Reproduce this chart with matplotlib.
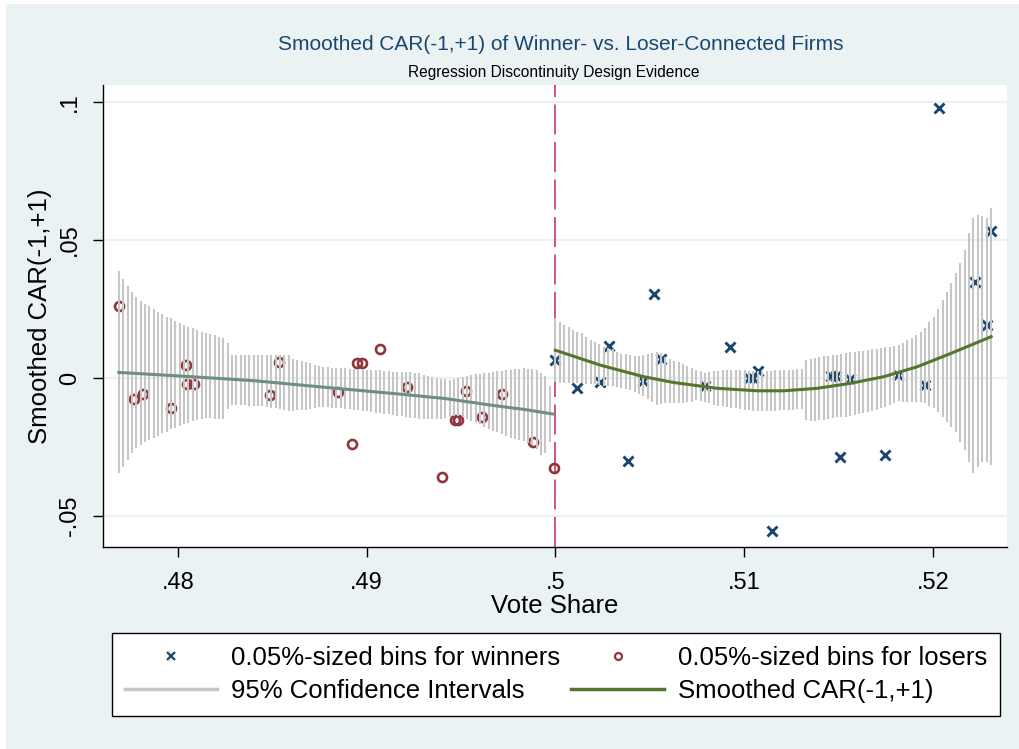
import numpy as np
import matplotlib
matplotlib.use("Agg")
import matplotlib.pyplot as plt
from matplotlib.lines import Line2D
from matplotlib.patches import Rectangle

plt.rcParams['font.family'] = ['Liberation Sans', 'DejaVu Sans']

NAVY = '#1a476f'
MAROON = '#90353b'
GREEN = '#55752f'
TEAL = '#6e8e84'
CI_GRAY = '#c6c6c6'
BG = '#eaf2f3'
VLINE = '#c8385a'

# ---- binned means (0.05%-sized bins) ----
lose_x = [0.47687, 0.47768, 0.47816, 0.47961, 0.48041, 0.48049, 0.48086, 0.48488,
          0.48537, 0.48848, 0.48924, 0.48950, 0.48975, 0.49072, 0.49212, 0.49399,
          0.49468, 0.49482, 0.49528, 0.49613, 0.49715, 0.49883, 0.49993]
lose_y = [0.0262, -0.0076, -0.0058, -0.0110, 0.0047, -0.0022, -0.0022, -0.0060,
          0.0057, -0.0052, -0.0237, 0.0056, 0.0056, 0.0104, -0.0033, -0.0359,
          -0.0152, -0.0152, -0.0045, -0.0141, -0.0059, -0.0233, -0.0325]

win_x = [0.50000, 0.50116, 0.50236, 0.50286, 0.50386, 0.50466, 0.50524, 0.50560,
         0.50793, 0.50925, 0.51028, 0.51049, 0.51075, 0.51146, 0.51459, 0.51487,
         0.51508, 0.51561, 0.51747, 0.51817, 0.51959, 0.52034, 0.52224, 0.52307,
         0.52285]
win_y = [0.0065, -0.0037, -0.0013, 0.0116, -0.0300, -0.0011, 0.0304, 0.0069,
         -0.0029, 0.0111, 0.0002, 0.0002, 0.0027, -0.0553, 0.0008, 0.0008,
         -0.0287, -0.0005, -0.0279, 0.0013, -0.0025, 0.0979, 0.0349, 0.0534,
         0.0194]

# ---- local polynomial grid (100 points per side) ----
grid_left = np.linspace(0.47687, 0.49970, 100)
grid_right = np.linspace(0.50000, 0.52308, 100)

# 95% CI bounds, in units of 1e-3
ci_hi_left = [38.8, 35.9, 33.4, 31.3, 29.5, 27.9, 26.8, 26.0, 24.9, 24.0,
              23.1, 22.2, 21.6, 20.8, 20.0, 19.4, 18.6, 18.0, 17.4, 16.8,
              16.2, 15.8, 15.6, 15.0, 14.4, 12.6, 8.3, 8.3, 8.3, 8.3,
              8.3, 8.3, 8.3, 8.3, 8.3, 8.3, 8.3, 8.3, 8.3, 8.3,
              7.1, 6.6, 6.1, 5.7, 5.3, 4.8, 4.5, 4.2, 4.0, 3.8,
              3.6, 3.6, 3.5, 3.4, 3.3, 3.2, 3.0, 3.0, 2.9, 2.9,
              2.8, 2.6, 2.4, 2.3, 2.2, 2.2, 2.2, 2.1, 2.0, 1.7,
              1.3, 0.9, 0.5, 0.1, -0.3, -0.5, -0.7, -0.5, -0.1, 0.4,
              0.8, 1.1, 1.4, 1.6, 1.8, 2.0, 2.2, 2.4, 2.7, 2.9,
              3.1, 3.3, 3.4, 3.5, 3.4, 3.3, 3.0, 2.0, 0.8, -2.7]
ci_lo_left = [-34.4, -32.1, -29.7, -27.3, -25.4, -24.3, -23.1, -22.5, -21.6, -20.9,
              -20.0, -19.4, -18.6, -18.0, -17.4, -16.8, -16.2, -15.6, -15.2, -14.9,
              -14.6, -14.6, -14.9, -15.0, -14.8, -11.3, -9.6, -9.7, -9.8, -9.9,
              -10.0, -10.0, -10.0, -10.2, -10.4, -10.7, -11.0, -11.2, -11.6, -11.8,
              -11.8, -11.7, -11.5, -11.4, -11.1, -10.8, -10.5, -10.4, -10.6, -10.7,
              -10.8, -10.9, -11.1, -11.3, -11.5, -11.7, -11.9, -12.1, -12.3, -12.5,
              -12.7, -12.9, -13.1, -13.4, -13.6, -13.9, -14.2, -14.4, -14.6, -14.8,
              -14.9, -14.9, -14.9, -14.8, -14.7, -14.4, -14.0, -13.7, -13.7, -14.2,
              -14.9, -15.5, -16.2, -16.8, -17.6, -18.3, -19.0, -19.7, -20.4, -21.1,
              -21.6, -22.1, -22.5, -22.8, -23.4, -24.3, -25.8, -27.7, -27.3, -23.3]
ci_hi_right = [21.6, 20.4, 19.2, 18.4, 17.6, 16.8, 16.2, 15.0, 13.8, 12.9,
               12.2, 11.4, 11.0, 10.4, 9.5, 8.9, 8.6, 8.3, 8.1, 8.1,
               8.3, 8.7, 9.2, 9.5, 9.0, 7.7, 6.9, 6.3, 5.8, 5.1,
               4.3, 3.5, 2.9, 2.5, 1.9, 2.3, 2.5, 2.7, 2.8, 2.9,
               2.9, 2.9, 2.9, 2.9, 2.7, 2.7, 2.7, 2.7, 2.7, 2.7,
               2.8, 2.9, 2.9, 3.0, 3.1, 3.2, 3.3, 6.5, 7.1, 7.4,
               7.7, 7.9, 8.1, 8.3, 8.5, 8.7, 9.0, 9.3, 9.5, 9.7,
               9.9, 10.1, 10.4, 10.7, 11.0, 11.2, 11.4, 11.6, 12.0, 12.8,
               13.8, 14.6, 15.6, 16.8, 18.0, 20.2, 22.0, 25.0, 28.3, 31.3,
               34.3, 37.9, 41.6, 46.4, 52.4, 57.9, 59.1, 58.7, 58.1, 61.7]
ci_lo_right = [-1.3, -1.6, -1.7, -1.7, -1.7, -1.7, -1.8, -2.0, -2.1, -2.3,
               -2.5, -2.7, -2.8, -3.0, -3.2, -3.5, -3.9, -4.3, -4.9, -5.6,
               -6.5, -7.4, -8.8, -9.8, -9.5, -9.2, -9.0, -8.9, -8.9, -8.9,
               -8.7, -8.6, -8.1, -8.3, -8.6, -9.1, -9.6, -10.0, -10.2, -10.5,
               -10.7, -11.0, -11.3, -11.5, -11.7, -11.8, -11.8, -11.8, -11.8, -11.8,
               -11.8, -11.7, -11.7, -11.6, -11.5, -11.3, -11.2, -15.2, -15.5, -15.5,
               -15.3, -15.1, -14.8, -14.5, -14.2, -14.0, -14.0, -13.7, -13.3, -13.0,
               -12.6, -12.2, -11.9, -11.6, -11.0, -10.4, -9.8, -8.9, -8.3, -8.5,
               -8.5, -8.6, -8.8, -8.6, -9.2, -10.0, -11.0, -12.2, -14.0, -15.8,
               -17.6, -19.4, -23.1, -26.1, -30.3, -34.5, -32.1, -30.3, -30.3, -31.5]

# smoothed CAR(-1,+1)
fit_left_x = [0.47687, 0.48048, 0.48408, 0.48821, 0.49176, 0.49415, 0.49680, 0.49839, 0.49987]
fit_left_y = [0.00205, 0.0006, -0.00097, -0.0036, -0.0058, -0.0074, -0.0100, -0.0114, -0.0130]
fit_right_x = [0.50000, 0.50238, 0.50468, 0.50627, 0.50857, 0.51069, 0.51210,
               0.51387, 0.51563, 0.51740, 0.51917, 0.52094, 0.52309]
fit_right_y = [0.0101, 0.0047, 0.0005, -0.0016, -0.0037, -0.0046, -0.0046,
               -0.0037, -0.0019, 0.0005, 0.0041, 0.0089, 0.0150]

xticks = [0.48, 0.49, 0.50, 0.51, 0.52]
xticklabels = ['.48', '.49', '.5', '.51', '.52']
yticks = [-0.05, 0, 0.05, 0.1]
yticklabels = ['-.05', '0', '.05', '.1']

fig = plt.figure(figsize=(10.2, 7.49), dpi=100, facecolor='white')
fig.patches.append(Rectangle((6/1020, 0), 1, 1 - 4/749, transform=fig.transFigure,
                             facecolor=BG, edgecolor='none', zorder=-10))
ax = fig.add_axes([103/1020, 1 - 547/749, 904/1020, 462/749])
ax.set_facecolor('white')

ax.set_xlim(0.47603, 0.52393)
ax.set_ylim(-0.0612, 0.1062)

for yv in yticks:
    ax.axhline(yv, color=BG, lw=1.6, zorder=0)

ax.axvline(0.5, color=VLINE, lw=1.2, dashes=(18, 4.5), zorder=1)

ax.plot(win_x, win_y, ls='none', marker='x', ms=7.5, mew=2.1, color=NAVY, zorder=2)
ax.plot(lose_x, lose_y, ls='none', marker='o', ms=6.5, mew=1.9, mfc='none', mec=MAROON, zorder=2)

ax.vlines(grid_left, np.array(ci_lo_left) / 1000, np.array(ci_hi_left) / 1000,
          color=CI_GRAY, lw=1.5, zorder=3)
ax.vlines(grid_right, np.array(ci_lo_right) / 1000, np.array(ci_hi_right) / 1000,
          color=CI_GRAY, lw=1.5, zorder=3)

ax.plot(fit_left_x, fit_left_y, color=TEAL, lw=2.2, zorder=4)
ax.plot(fit_right_x, fit_right_y, color=GREEN, lw=2.2, zorder=4)

ax.spines['top'].set_visible(False)
ax.spines['right'].set_visible(False)
ax.spines['left'].set_linewidth(1.0)
ax.spines['bottom'].set_linewidth(1.0)

ax.set_xticks(xticks)
ax.set_xticklabels(xticklabels)
ax.set_yticks(yticks)
ax.set_yticklabels(yticklabels, rotation=90, va='center')
ax.tick_params(axis='x', length=7, width=1.0, pad=11, labelsize=17)
ax.tick_params(axis='y', length=7, width=1.0, pad=9, labelsize=17)

ax.set_xlabel('Vote Share', fontsize=18.5, labelpad=0)
ax.set_ylabel('Smoothed CAR(-1,+1)', fontsize=18.5, labelpad=5)

fig.text(561/1020, 1 - 45/749, 'Smoothed CAR(-1,+1) of Winner- vs. Loser-Connected Firms',
         ha='center', va='center', fontsize=15, color=NAVY)
fig.text(554/1020, 1 - 73/749, 'Regression Discontinuity Design Evidence',
         ha='center', va='center', fontsize=11.2, color='black')

handles = [
    Line2D([], [], ls='none', marker='x', ms=5.5, mew=1.6, color=NAVY),
    Line2D([], [], color=CI_GRAY, lw=2.5),
    Line2D([], [], ls='none', marker='o', ms=5, mew=1.6, mfc='none', mec=MAROON),
    Line2D([], [], color=GREEN, lw=2.5),
]
labels = ['0.05%-sized bins for winners', '95% Confidence Intervals',
          '0.05%-sized bins for losers', 'Smoothed CAR(-1,+1)']
leg = fig.legend(handles, labels, ncol=2, loc='lower left',
                 bbox_to_anchor=(112/1020, 1 - 716/749, 888/1020, 85/749),
                 mode='expand', borderaxespad=0, fontsize=18.5, frameon=True,
                 fancybox=False, framealpha=1, handlelength=3.6, handletextpad=0.55,
                 labelspacing=0.37, borderpad=0.5, columnspacing=0.6)
leg.get_frame().set_edgecolor('black')
leg.get_frame().set_linewidth(1.0)
leg.get_frame().set_facecolor('white')

fig.savefig('out.png', dpi=100, facecolor=fig.get_facecolor())
